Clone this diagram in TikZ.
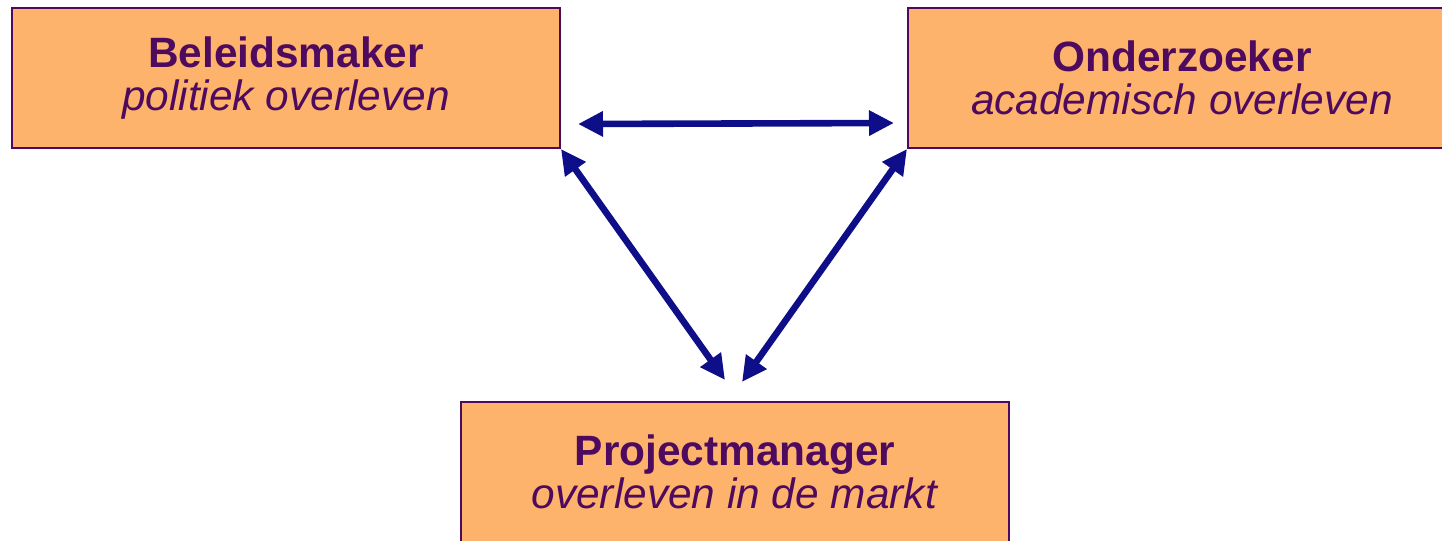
\documentclass[tikz,border=0pt]{standalone}
\usepackage{fontspec}
\setmainfont{Liberation Sans}
\usetikzlibrary{arrows.meta, positioning, calc}
\definecolor{boxfill}{HTML}{FDB36B}
\definecolor{boxline}{HTML}{4E0A5E}
\definecolor{arrowblue}{HTML}{0E0E88}

\begin{document}
\begin{tikzpicture}[x=0.5pt,y=-0.5pt,
            >={Triangle[length=12.5pt,width=12pt]},
            role/.style={draw=boxline, line width=1pt, fill=boxfill, text=boxline,
              minimum width=274pt, minimum height=70pt, align=center,
              font=\fontsize{21.2}{21.5}\selectfont},
            link/.style={<->, draw=arrowblue, line width=3.3pt}]
            \useasboundingbox (0,0) rectangle (1442,541);
            \node[role] (bel) at (286,78)  {\textbf{Beleidsmaker}\\\textit{politiek overleven}};
            \node[role] (ond) at (1182,78) {\textbf{Onderzoeker}\\\textit{academisch overleven}};
            \node[role] (pm)  at (735,472) {\textbf{Projectmanager}\\\textit{overleven in de markt}};

            \coordinate (pmL) at ($(pm.north)+(-10,-21)$);
            \coordinate (pmR) at ($(pm.north)+(7,-19)$);

            \draw[link] ([xshift=8.5pt,yshift=-23pt]bel.east) -- ([xshift=-6.5pt,yshift=-22.5pt]ond.west);
            \draw[link] (bel.south east) -- (pmL);
            \draw[link] (ond.south west) -- (pmR);
\end{tikzpicture}
\end{document}
